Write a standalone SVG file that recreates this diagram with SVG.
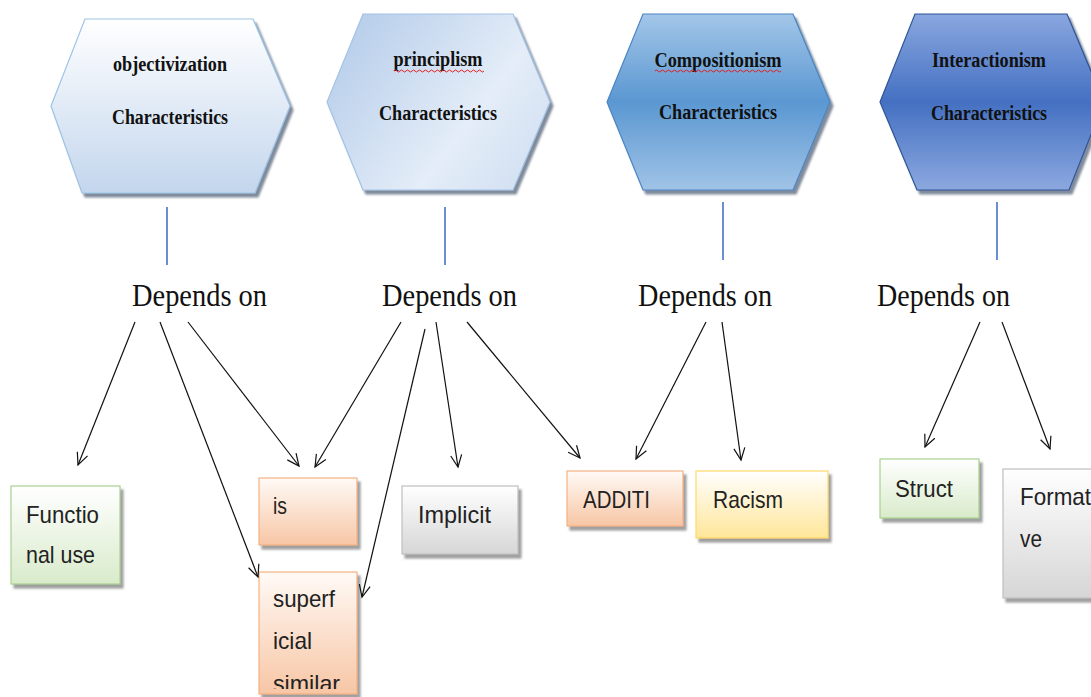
<svg xmlns="http://www.w3.org/2000/svg" width="1091" height="697" viewBox="0 0 1091 697">
<style>
.hext{font-family:"Liberation Serif","Times New Roman",serif;font-weight:bold;font-size:20px;fill:#111;text-anchor:middle}
.dep{font-family:"Liberation Serif","Times New Roman",serif;font-size:32px;fill:#111;text-anchor:middle}
.bt{font-family:"Liberation Sans",Arial,sans-serif;font-size:24px;fill:#222}
.vline{stroke:#4472c4;stroke-width:1.6}
.arr{stroke:#111;stroke-width:1.2;fill:none;marker-end:url(#ah)}
.sp{stroke:#e02020;stroke-width:1;fill:none}
</style>
<defs>
<marker id="ah" viewBox="-14 -8 16 16" refX="0" refY="0" markerWidth="16" markerHeight="16" markerUnits="userSpaceOnUse" orient="auto">
<path d="M-12,-5.5 L0,0 L-12,5.5" fill="none" stroke="#111" stroke-width="1.2"/>
</marker>
<filter id="sh" x="-10%" y="-10%" width="125%" height="125%">
<feDropShadow dx="3" dy="4" stdDeviation="1.2" flood-color="#7f7f7f" flood-opacity="0.75"/>
</filter>
<filter id="shh" x="-10%" y="-10%" width="125%" height="125%">
<feDropShadow dx="3" dy="4" stdDeviation="1.2" flood-color="#4a5a70" flood-opacity="0.7"/>
</filter>
<linearGradient id="g1" x1="0" y1="0" x2="0" y2="1">
<stop offset="0" stop-color="#ffffff"/><stop offset="1" stop-color="#c3d6ed"/>
</linearGradient>
<linearGradient id="g2" x1="0" y1="0.2" x2="1" y2="0.8">
<stop offset="0" stop-color="#b6cdea"/><stop offset="0.65" stop-color="#e4edf8"/><stop offset="1" stop-color="#d2e0f2"/>
</linearGradient>
<linearGradient id="g3" x1="0" y1="0" x2="0" y2="1">
<stop offset="0" stop-color="#a3c6e8"/><stop offset="0.5" stop-color="#5a97d2"/><stop offset="1" stop-color="#a0c3e6"/>
</linearGradient>
<linearGradient id="g4" x1="0" y1="0" x2="0" y2="1">
<stop offset="0" stop-color="#8aa7df"/><stop offset="0.5" stop-color="#4470c2"/><stop offset="1" stop-color="#8ca8df"/>
</linearGradient>
<linearGradient id="gGreen" x1="0" y1="0" x2="0" y2="1">
<stop offset="0" stop-color="#ffffff"/><stop offset="1" stop-color="#d9ebcb"/>
</linearGradient>
<linearGradient id="gOrange" x1="0" y1="0" x2="0" y2="1">
<stop offset="0" stop-color="#fffaf6"/><stop offset="1" stop-color="#f7c6a5"/>
</linearGradient>
<linearGradient id="gGray" x1="0" y1="0" x2="0" y2="1">
<stop offset="0" stop-color="#ffffff"/><stop offset="1" stop-color="#d6d6d6"/>
</linearGradient>
<linearGradient id="gYellow" x1="0" y1="0" x2="0" y2="1">
<stop offset="0" stop-color="#ffffff"/><stop offset="1" stop-color="#ffe699"/>
</linearGradient>
<clipPath id="supClip"><rect x="259" y="572" width="98" height="117"/></clipPath>
</defs>
<rect width="1091" height="697" fill="#ffffff"/>

<g id="hex-objectivization">
<polygon points="85,19 253,19 290,106 255,193 82,193 51,106" fill="url(#g1)" stroke="#9dc3e6" stroke-width="1.2" filter="url(#shh)"/>
<text class="hext" x="170" y="71" textLength="114" lengthAdjust="spacingAndGlyphs">objectivization</text>
<text class="hext" x="170" y="124" textLength="116" lengthAdjust="spacingAndGlyphs">Characteristics</text>
</g>
<g id="hex-principlism">
<polygon points="363,14 513,14 550,102 513,190 363,190 327,102" fill="url(#g2)" stroke="#a4c2e6" stroke-width="1.2" filter="url(#shh)"/>
<text class="hext" x="438" y="66" textLength="89" lengthAdjust="spacingAndGlyphs">principlism</text>
<path class="sp" d="M394,71 q1.5,-2 3,0 t3,0 t3,0 t3,0 t3,0 t3,0 t3,0 t3,0 t3,0 t3,0 t3,0 t3,0 t3,0 t3,0 t3,0 t3,0 t3,0 t3,0 t3,0 t3,0 t3,0 t3,0 t3,0 t3,0 t3,0 t3,0 t3,0 t3,0 t3,0 t3,0"/>
<text class="hext" x="438" y="120" textLength="118" lengthAdjust="spacingAndGlyphs">Characteristics</text>
</g>
<g id="hex-compositionism">
<polygon points="643,14 793,14 830,102 793,190 643,190 607,102" fill="url(#g3)" stroke="#4a86c4" stroke-width="1.2" filter="url(#shh)"/>
<text class="hext" x="718" y="67" textLength="127" lengthAdjust="spacingAndGlyphs">Compositionism</text>
<path class="sp" d="M655,71 q1.5,-2 3,0 t3,0 t3,0 t3,0 t3,0 t3,0 t3,0 t3,0 t3,0 t3,0 t3,0 t3,0 t3,0 t3,0 t3,0 t3,0 t3,0 t3,0 t3,0 t3,0 t3,0 t3,0 t3,0 t3,0 t3,0 t3,0 t3,0 t3,0 t3,0 t3,0 t3,0 t3,0 t3,0 t3,0 t3,0 t3,0 t3,0 t3,0 t3,0 t3,0 t3,0 t3,0"/>
<text class="hext" x="718" y="119" textLength="118" lengthAdjust="spacingAndGlyphs">Characteristics</text>
</g>
<g id="hex-interactionism">
<polygon points="915,14 1067,14 1104,102 1069,190 917,190 880,102" fill="url(#g4)" stroke="#2f5597" stroke-width="1.2" filter="url(#shh)"/>
<text class="hext" x="989" y="67" textLength="114" lengthAdjust="spacingAndGlyphs">Interactionism</text>
<text class="hext" x="989" y="120" textLength="116" lengthAdjust="spacingAndGlyphs">Characteristics</text>
</g>

<g id="dep1"><text class="dep" x="199.5" y="306" textLength="135" lengthAdjust="spacingAndGlyphs">Depends on</text></g>
<g id="dep2"><text class="dep" x="449.5" y="306" textLength="135" lengthAdjust="spacingAndGlyphs">Depends on</text></g>
<g id="dep3"><text class="dep" x="705" y="306" textLength="134" lengthAdjust="spacingAndGlyphs">Depends on</text></g>
<g id="dep4"><text class="dep" x="943.5" y="306" textLength="133" lengthAdjust="spacingAndGlyphs">Depends on</text></g>

<g id="box-functional">
<rect x="11" y="486" width="109" height="98" fill="url(#gGreen)" stroke="#a9d18e" stroke-width="1.2" filter="url(#sh)"/>
<text class="bt" x="26" y="523" textLength="73" lengthAdjust="spacingAndGlyphs">Functio</text>
<text class="bt" x="26" y="563" textLength="69" lengthAdjust="spacingAndGlyphs">nal use</text>
</g>
<g id="box-is">
<rect x="259" y="478" width="98" height="67" fill="url(#gOrange)" stroke="#f4b183" stroke-width="1.2" filter="url(#sh)"/>
<text class="bt" x="273" y="514" textLength="14" lengthAdjust="spacingAndGlyphs">is</text>
</g>
<g id="box-superficial">
<rect x="259" y="572" width="98" height="122" fill="url(#gOrange)" stroke="#f4b183" stroke-width="1.2" filter="url(#sh)"/>
<g clip-path="url(#supClip)">
<text class="bt" x="273" y="607" textLength="62" lengthAdjust="spacingAndGlyphs">superf</text>
<text class="bt" x="273" y="649" textLength="39" lengthAdjust="spacingAndGlyphs">icial</text>
<text class="bt" x="273" y="692" textLength="67" lengthAdjust="spacingAndGlyphs">similar</text>
</g>
</g>
<g id="box-implicit">
<rect x="402" y="486" width="116" height="68" fill="url(#gGray)" stroke="#bfbfbf" stroke-width="1.2" filter="url(#sh)"/>
<text class="bt" x="418" y="523" textLength="73" lengthAdjust="spacingAndGlyphs">Implicit</text>
</g>
<g id="box-additi">
<rect x="567" y="471" width="116" height="55" fill="url(#gOrange)" stroke="#f4b183" stroke-width="1.2" filter="url(#sh)"/>
<text class="bt" x="583" y="508" textLength="67" lengthAdjust="spacingAndGlyphs">ADDITI</text>
</g>
<g id="box-racism">
<rect x="696" y="471" width="132" height="67" fill="url(#gYellow)" stroke="#ffd966" stroke-width="1.2" filter="url(#sh)"/>
<text class="bt" x="713" y="508" textLength="70" lengthAdjust="spacingAndGlyphs">Racism</text>
</g>
<g id="box-struct">
<rect x="880" y="459" width="99" height="59" fill="url(#gGreen)" stroke="#a9d18e" stroke-width="1.2" filter="url(#sh)"/>
<text class="bt" x="895" y="497" textLength="58" lengthAdjust="spacingAndGlyphs">Struct</text>
</g>
<g id="box-formative">
<rect x="1003" y="469" width="110" height="129" fill="url(#gGray)" stroke="#bfbfbf" stroke-width="1.2" filter="url(#sh)"/>
<text class="bt" x="1020" y="505" textLength="76" lengthAdjust="spacingAndGlyphs">Formati</text>
<text class="bt" x="1020" y="547" textLength="22" lengthAdjust="spacingAndGlyphs">ve</text>
</g>

<g id="connectors">
<line class="vline" x1="167" y1="207" x2="167" y2="265"/>
<line class="vline" x1="445" y1="207" x2="445" y2="265"/>
<line class="vline" x1="723" y1="202" x2="723" y2="260"/>
<line class="vline" x1="997" y1="202" x2="997" y2="260"/>
<line class="arr" x1="135" y1="322" x2="78" y2="465"/>
<line class="arr" x1="160" y1="322" x2="258" y2="577"/>
<line class="arr" x1="188" y1="322" x2="299" y2="466"/>
<line class="arr" x1="401" y1="322" x2="315" y2="467"/>
<line class="arr" x1="425" y1="329" x2="362" y2="597"/>
<line class="arr" x1="436" y1="322" x2="458" y2="467"/>
<line class="arr" x1="467" y1="322" x2="580" y2="458"/>
<line class="arr" x1="706" y1="322" x2="636" y2="459"/>
<line class="arr" x1="722" y1="322" x2="741" y2="460"/>
<line class="arr" x1="980" y1="322" x2="925" y2="447"/>
<line class="arr" x1="1002" y1="322" x2="1050" y2="449"/>
</g>
</svg>
